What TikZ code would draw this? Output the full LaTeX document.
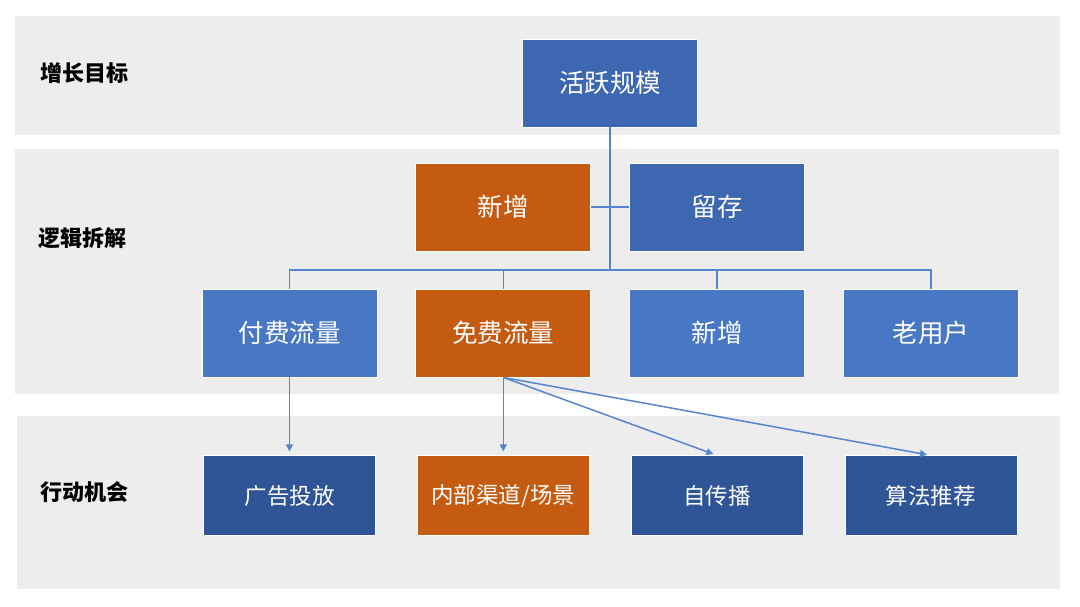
\documentclass[tikz,border=0pt]{standalone}
\usepackage{fontspec}
\newfontfamily\cjk{Noto Sans CJK SC}
\usetikzlibrary{positioning,arrows.meta}

\definecolor{bandgray}{HTML}{EDEDED}
\definecolor{goalblue}{HTML}{3D67B1}
\definecolor{splitblue}{HTML}{4777C5}
\definecolor{actblue}{HTML}{2F5597}
\definecolor{hotorange}{HTML}{C55A11}
\definecolor{linkblue}{HTML}{5584D0}

\begin{document}
\begin{tikzpicture}[
  x=1pt, y=-1pt,
  font=\cjk\fontsize{25.5}{30}\selectfont,
  node distance=37pt and 38pt,
  box/.style={draw=white, line width=0.8pt, text=white, inner sep=0pt,
              minimum width=175pt, minimum height=88pt},
  goalbox/.style={box, fill=goalblue},
  splitbox/.style={box, fill=splitblue},
  hotbox/.style={box, fill=hotorange},
  actbox/.style={box, fill=actblue, minimum width=172pt, minimum height=80pt,
                 font=\cjk\fontsize{22.5}{27}\selectfont},
  band/.style={fill=bandgray},
  tag/.style={font=\cjk\bfseries\fontsize{22}{26}\selectfont, anchor=west},
  link/.style={draw=linkblue, line width=1.5pt},
  arr/.style={link, -{Triangle[length=7pt, width=7pt]}, shorten >=4pt}
]
\useasboundingbox (0,0) rectangle (1080,606);

% Three grey bands, one per level.
\fill[band] (15,16) rectangle (1060,135);
\fill[band] (15,149) rectangle (1059,394);
\fill[band] (17,416) rectangle (1060,589);

% Level labels on the left.
\node[tag] (lgoal) at (37,73) {增长目标};
\node[tag] (lsplit) at (35,238) {逻辑拆解};
\node[tag] (lact) at (37,492) {行动机会};

% Goal on top.
\node[goalbox] (goal) at (610,83) {活跃规模};

% Breakdown row, left to right.
\node[splitbox] (paid) at (289.5,333) {付费流量};
\node[hotbox, right=of paid] (free) {免费流量};
\node[splitbox, right=of free] (newu) {新增};
\node[splitbox, right=of newu] (old) {老用户};

% New vs. retained sits above the middle pair.
\node[hotbox, above=of free] (add) {新增};
\node[goalbox, above=of newu] (keep) {留存};

% Action row under the breakdown row.
\node[actbox, below=78pt of paid] (ads) {广告投放};
\node[actbox, fill=hotorange, below=78pt of free] (inner) {内部渠道/场景};
\node[actbox, below=78pt of newu] (spread) {自传播};
\node[actbox, below=78pt of old] (algo) {算法推荐};

% Tree from the goal down to the breakdown row.
\coordinate (bus) at (goal.south |- 0,270);
\draw[link] (goal.south) -- (bus);
\draw[link] (add.east) -- (keep.west);
\draw[link] (paid.north) |- (bus) -| (old.north);
\draw[link] (free.north) -- (free.north |- bus);
\draw[link] (newu.north) -- (newu.north |- bus);

% Arrows into the actions.
\draw[arr] (paid.south) -- (ads.north);
\draw[arr] (free.south) -- (inner.north);
\draw[arr] (free.south) -- (spread.north);
\draw[arr] (free.south) -- (algo.north);
\end{tikzpicture}
\end{document}
